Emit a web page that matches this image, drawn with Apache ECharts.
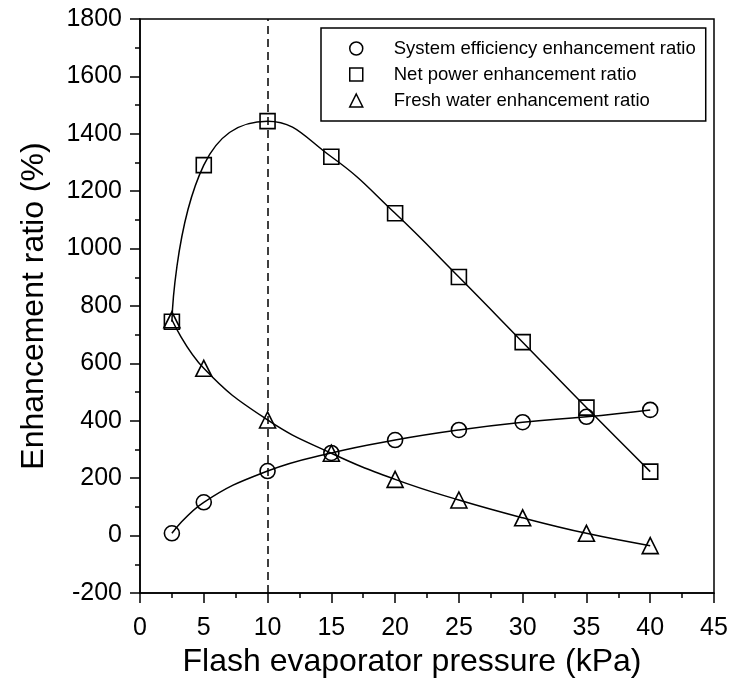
<!DOCTYPE html>
<html>
<head>
<meta charset="utf-8">
<title>Enhancement ratio vs flash evaporator pressure</title>
<script src="https://cdn.jsdelivr.net/npm/echarts@6/dist/echarts.min.js"></script>
<style>
  html, body { margin: 0; padding: 0; background: #fff; }
  #chart { width: 734px; height: 679px; }
</style>
</head>
<body>
<div id="chart"></div>
<script>
// flash evaporator pressure, kPa
const pressure = [2.5, 5, 10, 15, 20, 25, 30, 35, 40]
// enhancement ratios, %
const efficiencyRatio = [8, 116, 225, 288, 333, 368, 395, 414, 438]
const netPowerRatio = [745, 1291, 1444, 1320, 1123, 901, 674, 446, 223]
const freshWaterRatio = [752, 583, 403, 287, 196, 124, 62, 8, -35]
const optimumPressure = 10

const seriesNames = [
  'System efficiency enhancement ratio',
  'Net power enhancement ratio',
  'Fresh water enhancement ratio'
]
const symbols = ['circle', 'rect', 'triangle']

const font = '"Liberation Sans", Arial, Helvetica, sans-serif'

function pairs(ys) {
  return pressure.map((x, i) => [x, ys[i]])
}

const chart = echarts.init(document.getElementById('chart'))

function makeSeries(name, ys, symbol) {
  return {
    name: name,
    type: 'line',
    smooth: 0.45,
    data: pairs(ys),
    symbol: symbol,
    symbolSize: symbol === 'triangle' ? 16 : 15,
    showAllSymbol: true,
    lineStyle: { color: '#000', width: 1.5 },
    itemStyle: { color: 'rgba(0,0,0,0)', borderColor: '#000', borderWidth: 1.6 },
    emphasis: { disabled: true },
    z: 3
  }
}

const series = [
  makeSeries(seriesNames[0], efficiencyRatio, symbols[0]),
  makeSeries(seriesNames[1], netPowerRatio, symbols[1]),
  makeSeries(seriesNames[2], freshWaterRatio, symbols[2])
]
// dashed marker at the optimum pressure
series[0].markLine = {
  silent: true,
  symbol: ['none', 'none'],
  label: { show: false },
  lineStyle: { color: '#000', width: 1.5, type: [8, 5] },
  data: [{ xAxis: optimumPressure }]
}

const option = {
  animation: false,
  backgroundColor: '#fff',
  grid: {
    left: 140,
    right: 20,
    top: 19,
    bottom: 86,
    show: true,
    borderColor: '#000',
    borderWidth: 1.5,
    containLabel: false,
    outerBoundsMode: 'none'
  },
  legend: {
    orient: 'vertical',
    left: 321,
    top: 28,
    padding: [11, 10, 11, 28],
    itemWidth: 13,
    itemHeight: 13,
    itemGap: 7,
    borderColor: '#000',
    borderWidth: 1.5,
    selectedMode: false,
    textStyle: {
      color: '#000',
      fontSize: 18.5,
      fontFamily: font,
      lineHeight: 13,
      padding: [0, 0, 0, 26]
    },
    data: seriesNames.map((n, i) => ({
      name: n,
      icon: symbols[i],
      itemStyle: { color: 'rgba(0,0,0,0)', borderColor: '#000', borderWidth: 1.5 }
    }))
  },
  xAxis: {
    type: 'value',
    min: 0,
    max: 45,
    interval: 5,
    name: 'Flash evaporator pressure (kPa)',
    nameLocation: 'middle',
    nameGap: 52,
    nameTextStyle: { color: '#000', fontSize: 32, fontFamily: font, padding: [0, 30, 0, 0] },
    axisLine: { show: true, onZero: false, lineStyle: { color: '#000', width: 1.5 } },
    axisTick: { show: true, length: 10, lineStyle: { color: '#000', width: 1.5 } },
    minorTick: { show: true, splitNumber: 2, length: 5, lineStyle: { color: '#000', width: 1.5 } },
    axisLabel: { color: '#000', fontSize: 25, fontFamily: font, margin: 23 },
    splitLine: { show: false }
  },
  yAxis: {
    type: 'value',
    min: -200,
    max: 1800,
    interval: 200,
    name: 'Enhancement ratio (%)',
    nameLocation: 'middle',
    nameGap: 90,
    nameTextStyle: { color: '#000', fontSize: 32, fontFamily: font },
    axisLine: { show: true, onZero: false, lineStyle: { color: '#000', width: 1.5 } },
    axisTick: { show: true, length: 10, lineStyle: { color: '#000', width: 1.5 } },
    minorTick: { show: true, splitNumber: 2, length: 5, lineStyle: { color: '#000', width: 1.5 } },
    axisLabel: {
      color: '#000',
      fontSize: 25,
      fontFamily: font,
      margin: 18,
      formatter: v => String(v)
    },
    splitLine: { show: false }
  },
  series: series
}

chart.setOption(option)
</script>
</body>
</html>
